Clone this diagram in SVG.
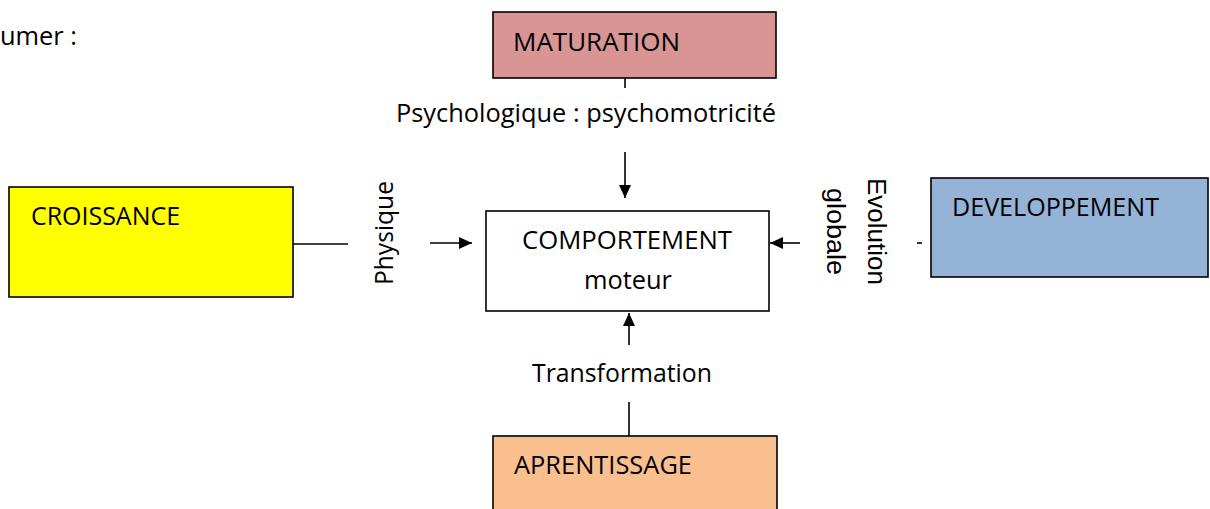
<svg xmlns="http://www.w3.org/2000/svg" width="1210" height="509" viewBox="0 0 1210 509">
<style>
.box{stroke:#000;stroke-width:1.6}
.t{font-family:"Open Sans","Liberation Sans",sans-serif;font-size:26px;fill:#000}
.a{font-family:"Liberation Sans",Arial,sans-serif;font-size:25px;fill:#000}
.ln{stroke:#000;stroke-width:1.6;fill:none}
</style>
<defs>
<marker id="ah" markerUnits="userSpaceOnUse" markerWidth="14" markerHeight="14" refX="13" refY="7" orient="auto">
<path d="M0,1 L13,7 L0,13 Z" fill="#000"/>
</marker>
</defs>
<rect width="1210" height="509" fill="#fff"/>
<text class="t" x="0" y="45" textLength="77" lengthAdjust="spacingAndGlyphs">umer :</text>
<g id="maturation">
<rect class="box" x="493" y="12" width="283" height="66" fill="#D99594"/>
<text class="t" x="513" y="51" textLength="167" lengthAdjust="spacingAndGlyphs">MATURATION</text>
</g>
<g id="croissance">
<rect class="box" x="9" y="187" width="284" height="110" fill="#FFFF00"/>
<text class="t" x="31" y="225" textLength="149" lengthAdjust="spacingAndGlyphs">CROISSANCE</text>
</g>
<g id="comportement">
<rect class="box" x="486" y="211" width="283" height="100" fill="#FFFFFF"/>
<text class="t" x="522" y="249" textLength="210" lengthAdjust="spacingAndGlyphs">COMPORTEMENT</text>
<text class="t" x="584" y="289" textLength="88" lengthAdjust="spacingAndGlyphs">moteur</text>
</g>
<g id="developpement">
<rect class="box" x="931" y="178" width="277" height="99" fill="#95B3D7"/>
<text class="t" x="952" y="216" textLength="207" lengthAdjust="spacingAndGlyphs">DEVELOPPEMENT</text>
</g>
<g id="aprentissage">
<rect class="box" x="493" y="436" width="284" height="80" fill="#FABF8F"/>
<text class="t" x="514" y="474" textLength="178" lengthAdjust="spacingAndGlyphs">APRENTISSAGE</text>
</g>
<g id="labels">
<text class="t" x="396" y="122" textLength="380" lengthAdjust="spacingAndGlyphs">Psychologique : psychomotricité</text>
<text class="t" x="532" y="382" textLength="180" lengthAdjust="spacingAndGlyphs">Transformation</text>
<text class="t" transform="translate(393,285) rotate(-90)" textLength="104" lengthAdjust="spacingAndGlyphs">Physique</text>
<text class="a" transform="translate(868,178) rotate(90)" textLength="107" lengthAdjust="spacingAndGlyphs">Evolution</text>
<text class="a" transform="translate(827,188) rotate(90)" textLength="87" lengthAdjust="spacingAndGlyphs">globale</text>
</g>
<g id="connectors">
<line class="ln" x1="625" y1="78" x2="625" y2="88"/>
<line class="ln" x1="625" y1="152" x2="625" y2="198" marker-end="url(#ah)"/>
<line class="ln" x1="293" y1="244" x2="348" y2="244"/>
<line class="ln" x1="430" y1="243" x2="472" y2="243" marker-end="url(#ah)"/>
<line class="ln" x1="800" y1="243" x2="770" y2="243" marker-end="url(#ah)"/>
<line class="ln" x1="917" y1="243" x2="922" y2="243"/>
<line class="ln" x1="629" y1="345" x2="629" y2="313" marker-end="url(#ah)"/>
<line class="ln" x1="629" y1="402" x2="629" y2="436"/>
</g>
</svg>
